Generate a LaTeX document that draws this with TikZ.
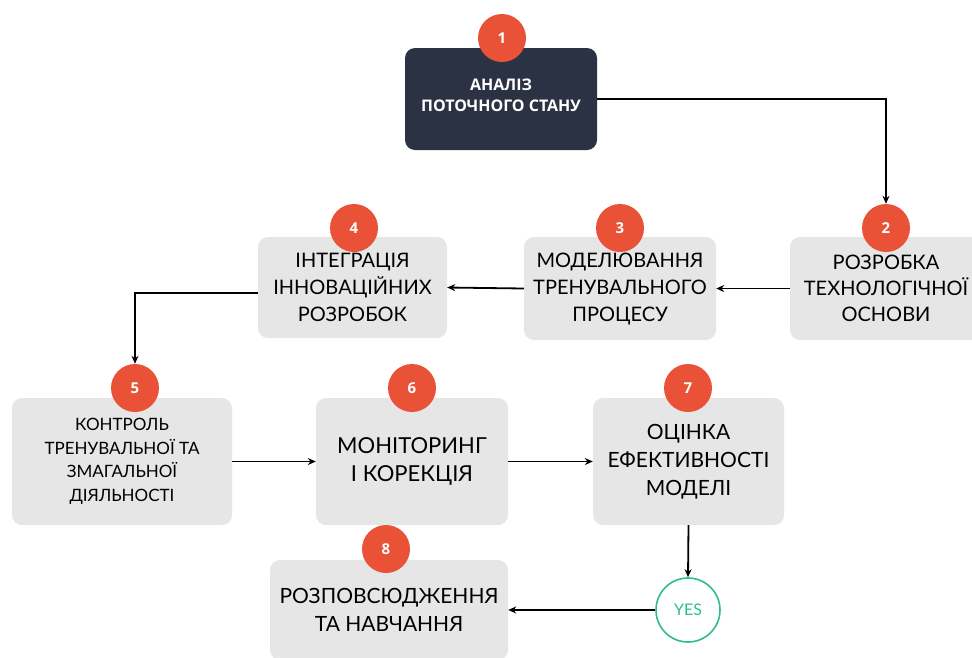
\documentclass[tikz,border=0pt]{standalone}
\usepackage{fontspec}
\setmainfont{Lato}
\newfontfamily\boldsans{Open Sans}
\usetikzlibrary{arrows.meta}
\definecolor{dark}{HTML}{2B3243}
\definecolor{boxgray}{HTML}{E6E6E6}
\definecolor{badge}{HTML}{EA5238}
\definecolor{yesgreen}{HTML}{2DBE8C}
\tikzset{
  box/.style={fill=boxgray, rounded corners=10pt, align=center, text=black, inner sep=0pt},
  darkbox/.style={fill=dark, rounded corners=10pt, align=center, text=white, inner sep=0pt},
  badgenode/.style={circle, fill=badge, minimum size=48pt, inner sep=0pt, text=white, font=\boldsans\bfseries\fontsize{15}{15}\selectfont},
  conn/.style={line width=1.8pt, -{Stealth[length=8pt,width=7pt]}},
  yesnode/.style={circle, draw=yesgreen, line width=1.6pt, fill=white, minimum size=64pt, inner sep=0pt, text=yesgreen, font=\fontsize{16}{16}\selectfont}
}
\begin{document}
\begin{tikzpicture}[x=1pt,y=-1pt]
\useasboundingbox (0,0) rectangle (972,657);
% boxes
\node[darkbox, minimum width=192pt, minimum height=102pt] (b1) at (501,99) {};
\node[text=white, align=center, font=\boldsans\bfseries\fontsize{16}{21}\selectfont] (t1) at (501,95) {АНАЛІЗ\\ПОТОЧНОГО СТАНУ};
\node[box, minimum width=192pt, minimum height=103pt, font=\fontsize{20}{26}\selectfont] (b2) at (886,288.5) {РОЗРОБКА\\ТЕХНОЛОГІЧНОЇ\\ОСНОВИ};
\node[box, minimum width=192pt, minimum height=103pt, font=\fontsize{20}{27}\selectfont] (b3) at (620,288.5) {МОДЕЛЮВАННЯ\\ТРЕНУВАЛЬНОГО\\ПРОЦЕСУ};
\node[box, minimum width=189pt, minimum height=101pt, font=\fontsize{20}{27}\selectfont] (b4) at (352.5,287.5) {ІНТЕГРАЦІЯ\\ІННОВАЦІЙНИХ\\РОЗРОБОК};
\node[box, minimum width=220pt, minimum height=127pt, font=\fontsize{17}{23.5}\selectfont] (b5) at (122,461.5) {КОНТРОЛЬ\\ТРЕНУВАЛЬНОЇ ТА\\ЗМАГАЛЬНОЇ\\ДІЯЛЬНОСТІ};
\node[box, minimum width=192pt, minimum height=127pt, font=\fontsize{22}{28}\selectfont] (b6) at (412,461.5) {МОНІТОРИНГ\\І КОРЕКЦІЯ};
\node[box, minimum width=191pt, minimum height=127pt, font=\fontsize{21}{28}\selectfont] (b7) at (688.5,461.5) {ОЦІНКА\\ЕФЕКТИВНОСТІ\\МОДЕЛІ};
\node[box, minimum width=238pt, minimum height=100pt, font=\fontsize{21}{28}\selectfont] (b8) at (389,610) {РОЗПОВСЮДЖЕННЯ\\ТА НАВЧАННЯ};
% badges
\node[badgenode] (n1) at (502,38) {1};
\node[badgenode] (n2) at (886,228) {2};
\node[badgenode] (n3) at (620,228) {3};
\node[badgenode] (n4) at (354,228) {4};
\node[badgenode] (n5) at (135,388) {5};
\node[badgenode] (n6) at (412,388) {6};
\node[badgenode] (n7) at (688,388) {7};
\node[badgenode] (n8) at (386,549) {8};
\node[yesnode] (yes) at (688,610) {YES};
% connectors
\draw[conn] (b1.east) -| (n2.north);
\draw[conn] (b2.west) -- (b3.east);
\draw[conn] (b3.west) -- (b4.east);
\draw[conn] ([yshift=-5.5pt]b4.west) -| (n5.north);
\draw[conn] (b5.east) -- (b6.west);
\draw[conn] (b6.east) -- (b7.west);
\draw[conn] (b7.south) -- (yes.north);
\draw[conn] (yes.west) -- (b8.east);
\end{tikzpicture}
\end{document}
